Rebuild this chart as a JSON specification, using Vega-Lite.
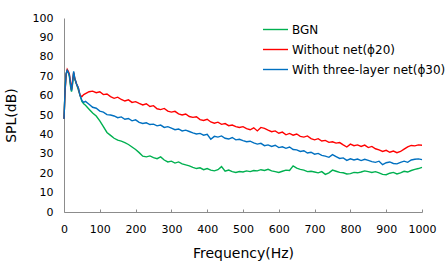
{
  "$schema": "https://vega.github.io/schema/vega-lite/v6.json",
  "autosize": {"type": "none"},
  "padding": {"left": 64, "top": 18, "right": 24, "bottom": 51},
  "width": 358,
  "height": 194,
  "background": "white",
  "config": {
    "view": {"stroke": null},
    "font": "DejaVu Sans",
    "axis": {"labelFont": "DejaVu Sans", "titleFont": "DejaVu Sans", "labelColor": "#000", "titleColor": "#000", "grid": false, "domainColor": "#8c8c8c", "tickColor": "#8c8c8c", "titleFontWeight": "normal", "labelOverlap": false}
  },
  "data": {"values": [
    {"f":0,"g":48,"r":48,"b":48},{"f":3,"g":63,"r":62,"b":63},{"f":6,"g":71,"r":71,"b":71.5},{"f":9,"g":73,"r":73.5,"b":73},{"f":12,"g":72,"r":72.5,"b":72},{"f":15,"g":70,"r":71,"b":70.5},{"f":18,"g":65,"r":67,"b":66},{"f":21,"g":62,"r":63,"b":62.5},{"f":24,"g":66,"r":68,"b":67},{"f":27,"g":71.5,"r":72,"b":72.5},{"f":30,"g":68.5,"r":69,"b":69},{"f":35,"g":66,"r":66,"b":66},{"f":40,"g":63,"r":64,"b":64},{"f":45,"g":60,"r":60,"b":60},{"f":50,"g":57,"r":59.5,"b":57.5},{"f":55,"g":55.8,"r":60.5,"b":56.5},{"f":60,"g":55,"r":61,"b":57},
    {"f":70,"g":53,"r":62,"b":55.5},{"f":80,"g":51,"r":62.3,"b":54},{"f":90,"g":49.5,"r":61.5,"b":53.5},{"f":100,"g":47,"r":62,"b":52},{"f":110,"g":44,"r":60.5,"b":51.5},{"f":120,"g":41,"r":60.8,"b":50.2},{"f":130,"g":39.5,"r":59.5,"b":50},{"f":140,"g":38,"r":58.6,"b":49.5},{"f":150,"g":37,"r":59.2,"b":48.6},{"f":160,"g":36.5,"r":58,"b":49},{"f":170,"g":35.8,"r":57.2,"b":47.8},{"f":180,"g":34.8,"r":57.8,"b":48.2},{"f":190,"g":33.5,"r":56.5,"b":47},{"f":200,"g":32.2,"r":56.9,"b":47.5},
    {"f":210,"g":30.6,"r":56,"b":46.2},{"f":220,"g":28.8,"r":55.2,"b":45.6},{"f":230,"g":28.4,"r":55.8,"b":46},{"f":240,"g":28.9,"r":54.4,"b":45.1},{"f":250,"g":28,"r":54.8,"b":45.3},{"f":260,"g":27.5,"r":53.2,"b":44.4},{"f":270,"g":28.4,"r":52.8,"b":44.8},{"f":280,"g":26.8,"r":53.4,"b":43.6},{"f":290,"g":25.8,"r":52,"b":44},{"f":300,"g":26.2,"r":51.5,"b":43.2},
    {"f":310,"g":25.2,"r":51.9,"b":42.4},{"f":320,"g":25.8,"r":50.6,"b":42.8},{"f":330,"g":24.8,"r":50,"b":41.8},{"f":340,"g":24.3,"r":50.5,"b":42.2},{"f":350,"g":23.8,"r":49.2,"b":41.5},{"f":360,"g":23,"r":48.8,"b":40.8},{"f":370,"g":22.4,"r":49.1,"b":40.2},{"f":380,"g":22.8,"r":47.6,"b":40.5},{"f":390,"g":21.8,"r":47.2,"b":39.6},{"f":400,"g":22.4,"r":47.8,"b":40},
    {"f":410,"g":21.6,"r":46.4,"b":37.5},{"f":420,"g":21.2,"r":45.8,"b":39},{"f":430,"g":21.8,"r":46.3,"b":38.6},{"f":440,"g":23.4,"r":45.2,"b":39.2},{"f":450,"g":21,"r":45.6,"b":38},{"f":460,"g":21.6,"r":44.5,"b":37.6},{"f":470,"g":20.8,"r":44.8,"b":38.4},{"f":480,"g":20.4,"r":44,"b":37.2},{"f":490,"g":20.9,"r":43.6,"b":37.5},{"f":500,"g":20.6,"r":44,"b":36.8},
    {"f":510,"g":21.2,"r":43,"b":36.2},{"f":520,"g":20.8,"r":42.4,"b":36.5},{"f":530,"g":21.4,"r":43.4,"b":35.6},{"f":540,"g":21.2,"r":41.8,"b":35},{"f":550,"g":21.8,"r":43.6,"b":35.4},{"f":560,"g":21.4,"r":43.1,"b":34.2},{"f":570,"g":22,"r":42.2,"b":34.6},{"f":580,"g":21.2,"r":41.4,"b":33.8},{"f":590,"g":20.8,"r":41.8,"b":34.4},{"f":600,"g":20.4,"r":40.6,"b":33.2},
    {"f":610,"g":21,"r":41.2,"b":33.6},{"f":620,"g":21.6,"r":39.8,"b":32.8},{"f":630,"g":21.4,"r":40.5,"b":33.5},{"f":640,"g":23.8,"r":39.6,"b":32.2},{"f":650,"g":22.6,"r":40.2,"b":32},{"f":660,"g":22,"r":39,"b":31.2},{"f":670,"g":21.6,"r":38.6,"b":31.6},{"f":680,"g":20.8,"r":39.2,"b":30.4},{"f":690,"g":21,"r":37.8,"b":30.8},{"f":700,"g":20.6,"r":37.2,"b":29.8},
    {"f":710,"g":20.2,"r":37.8,"b":30.2},{"f":720,"g":20.8,"r":36.6,"b":29.2},{"f":730,"g":19.4,"r":36.9,"b":28.8},{"f":740,"g":20.2,"r":35.9,"b":28.2},{"f":750,"g":21.6,"r":36.2,"b":29.6},{"f":760,"g":21,"r":35.5,"b":28.6},{"f":770,"g":20.4,"r":35.8,"b":27.6},{"f":780,"g":20.2,"r":34.6,"b":27.9},{"f":790,"g":19.6,"r":33.5,"b":26.6},{"f":800,"g":19.8,"r":35,"b":27.4},
    {"f":810,"g":20.4,"r":34.2,"b":26.8},{"f":820,"g":20.2,"r":34.6,"b":27.3},{"f":830,"g":20.6,"r":33.8,"b":26.5},{"f":840,"g":21.2,"r":34.5,"b":27.2},{"f":850,"g":20.8,"r":33.2,"b":26.6},{"f":860,"g":20.4,"r":33.8,"b":26},{"f":870,"g":20.8,"r":32.6,"b":25.6},{"f":880,"g":20.2,"r":32,"b":26.2},{"f":890,"g":19.4,"r":31.2,"b":24.4},{"f":900,"g":19.2,"r":31.8,"b":25.4},
    {"f":910,"g":20,"r":30.8,"b":25.8},{"f":920,"g":20.4,"r":31.4,"b":25},{"f":930,"g":19.6,"r":30.6,"b":24.8},{"f":940,"g":20.2,"r":31.2,"b":25.6},{"f":950,"g":21,"r":32.4,"b":26.2},{"f":960,"g":20.6,"r":33.6,"b":25.6},{"f":970,"g":21.4,"r":34.3,"b":26.8},{"f":980,"g":22,"r":34.1,"b":27.2},{"f":990,"g":22.4,"r":34.6,"b":27.4},{"f":1000,"g":23,"r":34.4,"b":27}
  ]},
  "transform": [{"fold": ["g", "r", "b"], "as": ["s", "v"]}],
  "mark": {"type": "line", "strokeWidth": 1.4},
  "encoding": {
    "x": {"field": "f", "type": "quantitative", "scale": {"domain": [0, 1000]}, "axis": {"title": "Frequency(Hz)", "values": [0,100,200,300,400,500,600,700,800,900,1000], "format": "d", "labelFontSize": 11, "titleFontSize": 14, "tickSize": -3, "labelPadding": 14, "titlePadding": 12, "labelFlush": false}},
    "y": {"field": "v", "type": "quantitative", "scale": {"domain": [0, 100]}, "axis": {"title": "SPL(dB)", "values": [0,10,20,30,40,50,60,70,80,90,100], "labelFontSize": 11, "titleFontSize": 14, "ticks": false, "labelPadding": 11, "titlePadding": 14}},
    "color": {"field": "s", "type": "nominal", "scale": {"domain": ["g","r","b"], "range": ["#00b050","#ff0000","#0070c0"]}, "legend": {"orient": "none", "legendX": 198, "legendY": -2, "title": null, "symbolType": "stroke", "symbolSize": 625, "symbolStrokeWidth": 1.4, "labelFont": "DejaVu Sans", "labelFontSize": 12, "labelColor": "#000", "labelOffset": 3, "rowPadding": -7, "padding": 0,
      "labelExpr": "datum.label == 'g' ? 'BGN' : datum.label == 'r' ? 'Without net(ϕ20)' : 'With three-layer net(ϕ30)'"}}
  }
}
